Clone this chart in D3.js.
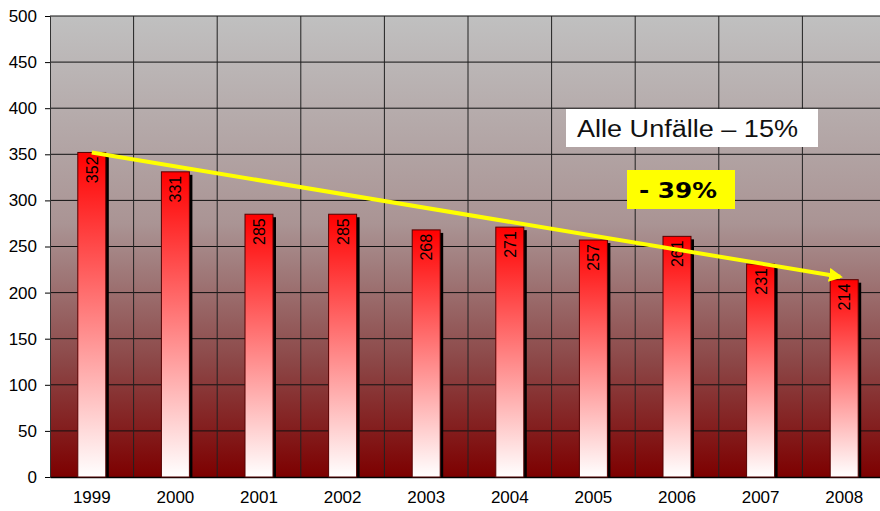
<!DOCTYPE html>
<html>
<head>
<meta charset="UTF-8">
<script src="https://d3js.org/d3.v7.min.js"></script>
<style>
  body { margin: 0; background: #fff; }
  svg { display: block; font-family: "Liberation Sans", Arial, sans-serif; }
</style>
</head>
<body>
<svg id="chart" width="880" height="511"></svg>
<script>
// Daten
var years = ["1999","2000","2001","2002","2003","2004","2005","2006","2007","2008"];
var unfaelle = [352, 331, 285, 285, 268, 271, 257, 261, 231, 214];
var yTicks = [0, 50, 100, 150, 200, 250, 300, 350, 400, 450, 500];
var boxAlle = "Alle Unfälle – 15%";
var boxTrend = "- 39%";

var svg = d3.select("#chart");
var pLeft = 50, pRight = 886, pTop = 16, pBottom = 477;

var x = d3.scaleBand().domain(years).range([pLeft, pRight]);
var y = d3.scaleLinear().domain([0, 500]).range([pBottom, pTop]);

var defs = svg.append("defs");
var bg = defs.append("linearGradient").attr("id", "bg").attr("x1", 0).attr("y1", 0).attr("x2", 0).attr("y2", 1);
bg.append("stop").attr("offset", "0%").attr("stop-color", "#c0c0c0");
bg.append("stop").attr("offset", "45%").attr("stop-color", "#aa9494");
bg.append("stop").attr("offset", "75%").attr("stop-color", "#8c4747");
bg.append("stop").attr("offset", "100%").attr("stop-color", "#7d0000");

var barGrad = defs.append("linearGradient").attr("id", "barGrad").attr("x1", 0).attr("y1", 0).attr("x2", 0).attr("y2", 1);
barGrad.append("stop").attr("offset", "0%").attr("stop-color", "#ff0000");
barGrad.append("stop").attr("offset", "100%").attr("stop-color", "#ffffff");

defs.append("marker").attr("id", "arrow")
  .attr("viewBox", "0 0 10 10").attr("refX", 8).attr("refY", 5)
  .attr("markerWidth", 3.5).attr("markerHeight", 3.5).attr("orient", "auto")
  .append("path").attr("d", "M0,0 L10,5 L0,10 z").attr("fill", "#ffff00");

// Hintergrund
svg.append("rect")
  .attr("x", pLeft).attr("y", pTop)
  .attr("width", pRight - pLeft).attr("height", pBottom - pTop)
  .attr("fill", "url(#bg)");

// Gitternetz
svg.append("g").selectAll("line")
  .data(yTicks.slice(1))
  .enter().append("line")
    .attr("x1", pLeft).attr("x2", pRight)
    .attr("y1", function(d){ return y(d); }).attr("y2", function(d){ return y(d); })
    .attr("stroke", "#111").attr("stroke-width", 1);

svg.append("g").selectAll("line")
  .data(years.slice(1))
  .enter().append("line")
    .attr("x1", function(d){ return x(d); }).attr("x2", function(d){ return x(d); })
    .attr("y1", pTop).attr("y2", pBottom)
    .attr("stroke", "#222").attr("stroke-width", 1);

// y-Achse
var yAxis = svg.append("g")
  .attr("transform", "translate(" + pLeft + ",0)")
  .call(d3.axisLeft(y).tickValues(yTicks).tickSize(5).tickPadding(8));
yAxis.selectAll("text").style("font-size", "17px").attr("fill", "#000");
yAxis.selectAll("line").attr("stroke", "#000");
yAxis.select(".domain").attr("stroke", "#333");

// x-Achse
var xAxis = svg.append("g")
  .attr("transform", "translate(0," + pBottom + ")")
  .call(d3.axisBottom(x).tickSize(0).tickPadding(14));
xAxis.selectAll("text").style("font-size", "17px").attr("fill", "#000");
xAxis.select(".domain").attr("stroke", "#000").attr("stroke-width", 1.5);

// Balken
var bw = 28;
var bars = svg.append("g").selectAll("g")
  .data(unfaelle)
  .enter().append("g");

bars.append("rect")
  .attr("x", function(d, i){ return x(years[i]) + x.bandwidth() / 2 - bw / 2 + 3; })
  .attr("y", function(d){ return y(d) + 3; })
  .attr("width", bw)
  .attr("height", function(d){ return pBottom - y(d) - 3; })
  .attr("fill", "#000");

bars.append("rect")
  .attr("x", function(d, i){ return x(years[i]) + x.bandwidth() / 2 - bw / 2; })
  .attr("y", function(d){ return y(d); })
  .attr("width", bw)
  .attr("height", function(d){ return pBottom - y(d); })
  .attr("fill", "url(#barGrad)")
  .attr("stroke", "#500").attr("stroke-width", 1);

bars.append("text")
  .attr("transform", function(d, i){
    var cx = x(years[i]) + x.bandwidth() / 2;
    return "translate(" + (cx + 6) + "," + (y(d) + 4) + ") rotate(-90)";
  })
  .attr("text-anchor", "end")
  .style("font-size", "16px")
  .attr("fill", "#000")
  .text(function(d){ return d; });

// Trendpfeil
var first = 0, last = years.length - 1;
svg.append("line")
  .attr("x1", x(years[first]) + x.bandwidth() / 2)
  .attr("y1", y(unfaelle[first]))
  .attr("x2", x(years[last]) + x.bandwidth() / 2 - 4)
  .attr("y2", y(unfaelle[last]) - 3)
  .attr("stroke", "#ffff00").attr("stroke-width", 4)
  .attr("marker-end", "url(#arrow)");

// Beschriftungen
svg.append("rect").attr("x", 566).attr("y", 109).attr("width", 252).attr("height", 38).attr("fill", "#fff");
svg.append("text").attr("x", 577).attr("y", 137)
  .attr("textLength", 221).attr("lengthAdjust", "spacingAndGlyphs")
  .style("font-size", "23px")
  .attr("fill", "#111").text(boxAlle);

svg.append("rect").attr("x", 627).attr("y", 170).attr("width", 108).attr("height", 39).attr("fill", "#ffff00");
svg.append("text").attr("x", 639).attr("y", 198)
  .attr("textLength", 78).attr("lengthAdjust", "spacingAndGlyphs")
  .style("font-family", "Verdana, 'DejaVu Sans', sans-serif").style("font-size", "22px").style("font-weight", "bold")
  .attr("fill", "#000").text(boxTrend);
</script>
</body>
</html>
